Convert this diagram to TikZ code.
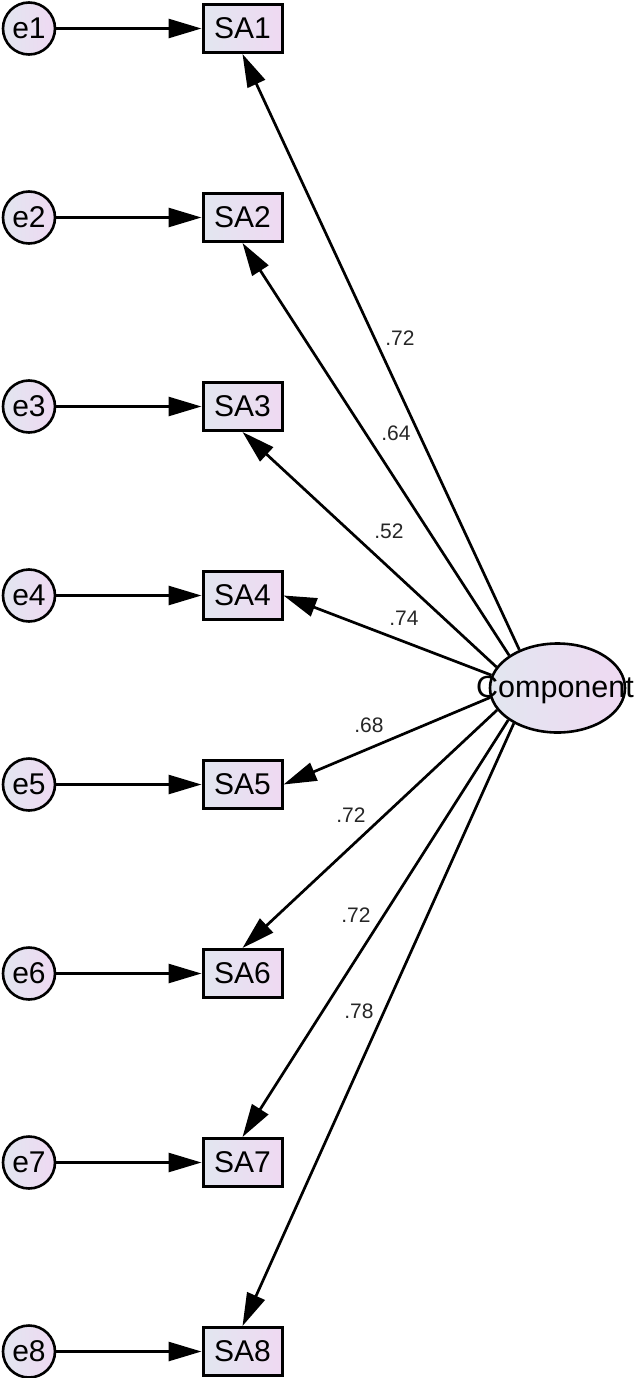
\documentclass[tikz,border=0pt]{standalone}
\usepackage{fontspec}
\setmainfont{Liberation Sans}
\usetikzlibrary{arrows.meta,shapes.geometric}
\definecolor{fillL}{HTML}{E2E6F0}
\definecolor{fillR}{HTML}{EFD9F2}
\begin{document}
\begin{tikzpicture}[x=1pt,y=-1pt,
  obs/.style={draw, line width=3pt, minimum width=79pt, minimum height=48pt, inner sep=0pt,
    left color=fillL, right color=fillR, font=\fontsize{30}{32}\selectfont},
  err/.style={circle, draw, line width=2.6pt, minimum size=52pt, inner sep=0pt,
    left color=fillL, right color=fillR, font=\fontsize{30}{32}\selectfont},
  lat/.style={ellipse, draw, line width=2.6pt, minimum width=135pt, minimum height=89pt, inner sep=0pt,
    left color=fillL, right color=fillR},
  pth/.style={line width=2.7pt, -{Triangle[length=33pt,width=19pt]}},
  lbl/.style={font=\fontsize{21}{23}\selectfont, text=black!85, inner sep=0pt}]
\useasboundingbox (0,0) rectangle (634,1378);
% latent
\node[lat] (comp) at (557.5,688) {};
\node[font=\fontsize{30.5}{32}\selectfont, inner sep=0pt] (ctext) at (555,690) {Component};
% rows
\foreach \i in {1,...,8}{
  \node[obs] (sa\i) at (242.5,{28.5+189*(\i-1)}) {SA\i};
  \node[err] (e\i) at (29,{28.5+189*(\i-1)}) {e\i};
  \draw[pth] (e\i) -- (sa\i);
}
% loadings
\draw[pth] (comp.135) -- (sa1.south);
\draw[pth] (comp.146) -- (sa2.south);
\draw[pth] (comp.161) -- (sa3.south);
\draw[pth] (comp.169) -- (sa4.east);
\draw[pth] (comp.188) -- (sa5.east);
\draw[pth] (comp.200) -- (sa6.north);
\draw[pth] (comp.213) -- (sa7.north);
\draw[pth] (comp.219) -- (sa8.north);
% labels
\node[lbl] (l1) at (400,338) {.72};
\node[lbl] (l2) at (396,433) {.64};
\node[lbl] (l3) at (389,531) {.52};
\node[lbl] (l4) at (404,618) {.74};
\node[lbl] (l5) at (369,725) {.68};
\node[lbl] (l6) at (351,815) {.72};
\node[lbl] (l7) at (356,915) {.72};
\node[lbl] (l8) at (359,1011) {.78};
\end{tikzpicture}
\end{document}
